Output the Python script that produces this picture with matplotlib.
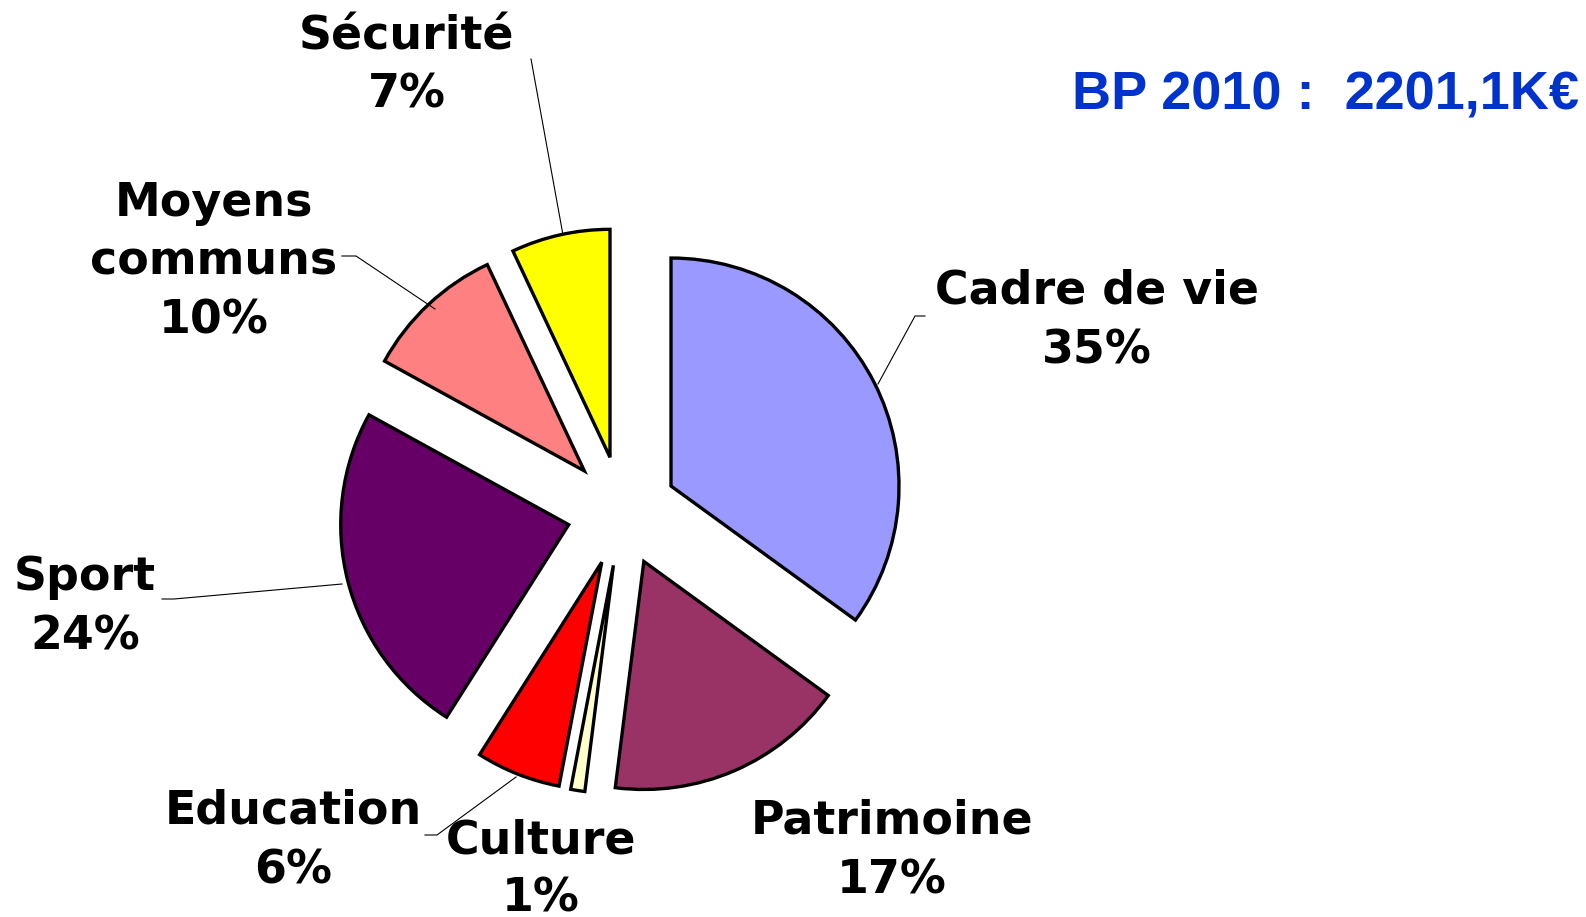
import matplotlib.pyplot as plt

categories = ["Cadre de vie", "Patrimoine", "Culture", "Education", "Sport",
              "Moyens communs", "Sécurité"]
shares = [35, 17, 1, 6, 24, 10, 7]
label_texts = ["Cadre de vie\n35%", "Patrimoine\n17%", "Culture\n1%", "Education\n6%",
               "Sport\n24%", "Moyens\ncommuns\n10%", "Sécurité\n7%"]
title_text = "BP 2010 :  2201,1K€"


def main():
    W, H = 1586, 917
    fig = plt.figure(figsize=(W / 100, H / 100), dpi=100)
    ax = fig.add_axes([0, 0, 1, 1])

    colors = ["#9999FF", "#993366", "#FFFFCC", "#FF0000", "#660066", "#FF8080", "#FFFF00"]
    # pixel frame, y up (so y = -row)
    cx, cy, r = 622, -511, 228
    ax.pie(shares, colors=colors, startangle=90, counterclock=False,
           center=(cx, cy), radius=r, explode=[55] * len(shares),
           wedgeprops=dict(edgecolor="black", linewidth=2.4), frame=True)
    ax.set_xlim(0, W)
    ax.set_ylim(-H, 0)
    ax.set_aspect("equal")
    ax.axis("off")

    label_pos = [(1097, 321), (892, 851), (541, 870), (293, 841),
                 (85, 607), (214, 262), (407, 66)]
    for txt, (x, y) in zip(label_texts, label_pos):
        ax.text(x, -y, txt, ha="center", va="center", fontsize=33, fontweight="bold",
                family="DejaVu Sans", linespacing=1.4)

    leaders = [
        [(531, 59), (563, 235)],
        [(342, 256), (356, 256), (435, 309)],
        [(925, 316), (915, 316), (878, 384)],
        [(162, 599), (174, 599), (342, 584)],
        [(425, 835), (437, 835), (516, 777)],
    ]
    for pts in leaders:
        ax.plot([p[0] for p in pts], [-p[1] for p in pts], color="black", lw=0.8)

    ax.text(1579, -96, title_text, ha="right", va="center", fontsize=39,
            fontweight="bold", family="Liberation Sans", color="#0033CC")

    fig.savefig("out.png", dpi=100)


if __name__ == "__main__":
    main()
